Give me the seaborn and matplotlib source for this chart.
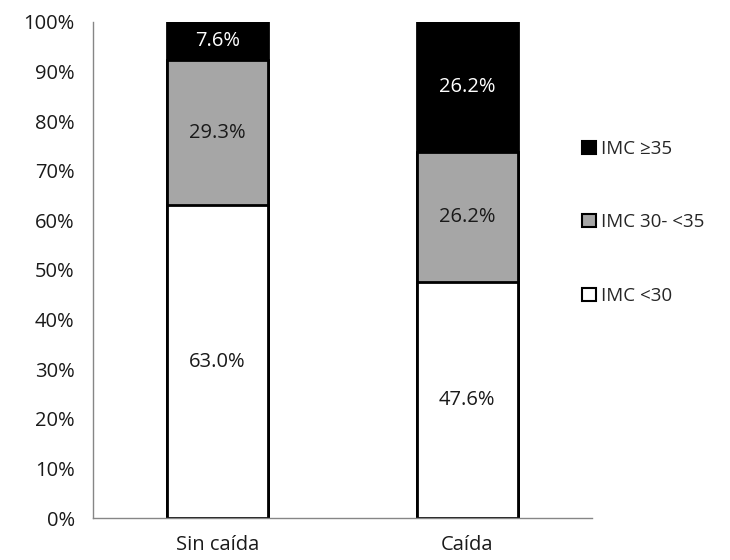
import matplotlib
matplotlib.use('Agg')
import matplotlib.pyplot as plt
import seaborn as sns
import pandas as pd
import numpy as np
from matplotlib.patches import Patch

# data (percent)
groups = ['Sin caída', 'Caída']
imc_lt30 = [63.0, 47.6]
imc_30_35 = [29.3, 26.2]
imc_ge35 = [7.6, 26.2]
layer_names = ['IMC <30', 'IMC 30- <35', 'IMC \u226535']
layer_colors = ['white', '#a6a6a6', 'black']
label_colors = ['#1a1a1a', '#1a1a1a', 'white']

sns.set_style('white')
plt.rcParams['font.family'] = ['Open Sans', 'DejaVu Sans']

layers = [imc_lt30, imc_30_35, imc_ge35]
cum = np.cumsum(np.array(layers), axis=0)

fig = plt.figure(figsize=(7.3, 5.6), dpi=100)
ax = fig.add_axes([0.127, 0.075, 0.684, 0.886])

# stacked bars: draw cumulative totals from the top layer down
for i in range(len(layers) - 1, -1, -1):
    df = pd.DataFrame({'grupo': groups, 'valor': cum[i]})
    sns.barplot(data=df, x='grupo', y='valor', color=layer_colors[i],
                width=0.405, edgecolor='black', linewidth=2, ax=ax,
                saturation=1, errorbar=None)

# segment labels
for i, vals in enumerate(layers):
    for j, v in enumerate(vals):
        mid = cum[i][j] - v / 2
        ax.text(j, mid, f'{v:.1f}%', ha='center', va='center',
                fontsize=14.5, color=label_colors[i])

ax.set_xlim(-0.5, 1.5)
ax.set_ylim(0, 100)
ax.set_yticks(range(0, 101, 10))
ax.set_yticklabels([f'{t}%' for t in range(0, 101, 10)], fontsize=14.5, color='#1a1a1a')
ax.tick_params(axis='x', length=0, labelsize=14.5, labelcolor='#1a1a1a', pad=12)
ax.set_xticks([-0.5, 0.5, 1.5], minor=True)
ax.tick_params(axis='x', which='minor', length=7, color='#868686', direction='out')
ax.tick_params(axis='y', length=7, color='#868686', direction='out', pad=6)
ax.set_xlabel('')
ax.set_ylabel('')
for s in ['top', 'right']:
    ax.spines[s].set_visible(False)
for s in ['left', 'bottom']:
    ax.spines[s].set_color('#868686')
    ax.spines[s].set_linewidth(1)

handles = [Patch(facecolor=layer_colors[i], edgecolor='black', linewidth=1.5,
                 label=layer_names[i]) for i in range(2, -1, -1)]
fig.legend(handles=handles, loc='center left', bbox_to_anchor=(0.785, 0.603),
           frameon=False, fontsize=13.5, handlelength=0.7, handleheight=0.7,
           handletextpad=0.3, labelspacing=2.95, borderpad=0)

fig.savefig('out.png', dpi=100)
